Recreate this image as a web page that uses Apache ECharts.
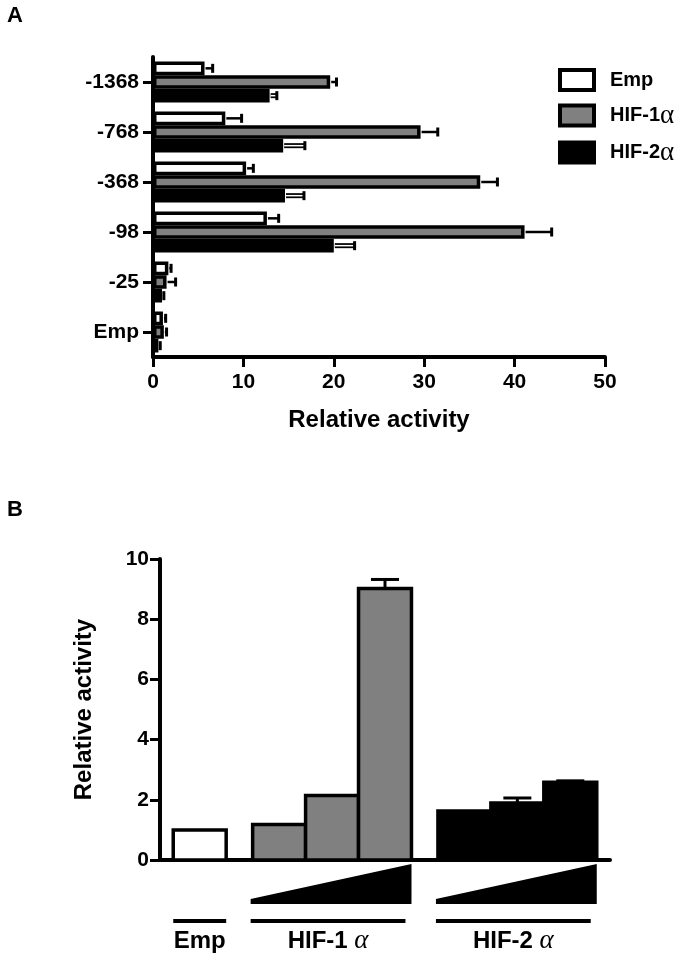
<!DOCTYPE html>
<html>
<head>
<meta charset="utf-8">
<script src="https://cdn.jsdelivr.net/npm/echarts@6/dist/echarts.min.js"></script>
<style>
  html, body { margin: 0; padding: 0; background: #fff; }
  #chart { width: 693px; height: 963px; }
</style>
</head>
<body>
<div id="chart"></div>
<script>
// panel A - promoter constructs
const promoters = ['-1368', '-768', '-368', '-98', '-25', 'Emp'];
const seriesNamesA = ['Emp', 'HIF-1α', 'HIF-2α'];
const empA = [5.7, 8.0, 10.3, 12.6, 1.7, 1.1];
const empAErr = [0.9, 1.8, 0.8, 1.3, 0.3, 0.3];
const hif1A = [19.6, 29.6, 36.2, 41.1, 1.5, 1.2];
const hif1AErr = [0.7, 1.9, 1.9, 3.0, 1.0, 0.3];
const hif2A = [12.9, 14.4, 14.6, 20.0, 1.0, 0.6];
const hif2AErr = [0.8, 2.4, 2.1, 2.3, 0.2, 0.2];
const xTicksA = [0, 10, 20, 30, 40, 50];

// panel B - dose response
const groupsB = ['Emp', 'HIF-1α', 'HIF-2α'];
const empB = [1.0];
const empBErr = [0];
const hif1B = [1.18, 2.14, 9.02];
const hif1BErr = [0, 0, 0.3];
const hif2B = [1.63, 1.89, 2.58];
const hif2BErr = [0, 0.17, 0.05];
const yTicksB = [0, 2, 4, 6, 8, 10];

const FONT = '"Liberation Sans", Arial, sans-serif';
const SERIF = '"Liberation Serif", "DejaVu Serif", serif';
const fills = ['#ffffff', '#808080', '#000000'];
const CAT_GAP = 0.18;

const chart = echarts.init(document.getElementById('chart'));

// bar layout for panel B: half-slot margin, 2 units per bar, 1 unit gap between groups
const barsB = [];
const spansB = [];
let pos = 0.5;
[[empB, empBErr], [hif1B, hif1BErr], [hif2B, hif2BErr]].forEach(([vals, errs], g) => {
  const start = pos;
  vals.forEach((v, i) => {
    barsB.push([pos + 1, v, errs[i], g]);
    pos += 2;
  });
  spansB.push([start, pos, g, vals.length]);
  pos += 1;
});
const xMaxB = pos - 0.5;

function errSeriesA(vals, errs, k) {
  return {
    type: 'custom',
    xAxisIndex: 0,
    yAxisIndex: 0,
    z: 3,
    silent: true,
    data: vals.map((v, i) => [v, i, errs[i]]),
    renderItem: (params, api) => {
      const v = api.value(0), i = api.value(1), e = api.value(2);
      const band = api.size([0, 1])[1];
      const group = band * (1 - CAT_GAP);
      const h = group / 3;
      const c = api.coord([v, i]);
      const y = c[1] - group / 2 + h * (k + 0.5);
      const x0 = c[0] + 1;
      const x1 = api.coord([v + e, i])[0];
      const children = [];
      if (k === 2) {
        children.push({ type: 'line', shape: { x1: x0, y1: y, x2: x1, y2: y }, style: { stroke: '#000', lineWidth: 5 } });
        children.push({ type: 'line', shape: { x1: x0, y1: y, x2: x1 - 1, y2: y }, style: { stroke: '#fff', lineWidth: 1.5 } });
      } else {
        children.push({ type: 'line', shape: { x1: x0, y1: y, x2: x1, y2: y }, style: { stroke: '#000', lineWidth: 2.5 } });
      }
      children.push({ type: 'line', shape: { x1: x1, y1: y - 4.5, x2: x1, y2: y + 4.5 }, style: { stroke: '#000', lineWidth: 3 } });
      return { type: 'group', children };
    }
  };
}

const option = {
  backgroundColor: '#fff',
  animation: false,
  title: [
    { text: 'A', left: 2, top: 0, textStyle: { fontFamily: FONT, fontSize: 22, fontWeight: 'bold', color: '#000' } },
    { text: 'B', left: 2, top: 494, textStyle: { fontFamily: FONT, fontSize: 22, fontWeight: 'bold', color: '#000' } }
  ],
  legend: {
    data: seriesNamesA,
    orient: 'vertical',
    left: 553,
    top: 63,
    padding: 5,
    itemWidth: 34,
    itemHeight: 20,
    itemGap: 10,
    icon: 'rect',
    itemStyle: { borderColor: '#000', borderWidth: 4 },
    formatter: name => name.replace('α', '{a|α}'),
    textStyle: {
      fontFamily: FONT, fontSize: 20, fontWeight: 'bold', color: '#000',
      lineHeight: 22,
      padding: [0, 0, 0, 11],
      rich: { a: { fontFamily: SERIF, fontSize: 27, lineHeight: 22, fontWeight: 'normal', color: '#000' } }
    }
  },
  grid: [
    { left: 153, right: 88, top: 57, height: 300 },
    { left: 160, width: 450, top: 559, height: 301 }
  ],
  xAxis: [
    {
      gridIndex: 0,
      type: 'value',
      min: xTicksA[0],
      max: xTicksA[xTicksA.length - 1],
      interval: xTicksA[1] - xTicksA[0],
      name: 'Relative activity',
      nameLocation: 'middle',
      nameGap: 51,
      nameTextStyle: { fontFamily: FONT, fontSize: 24, fontWeight: 'bold', color: '#000' },
      axisLine: { show: true, lineStyle: { color: '#000', width: 4 } },
      axisTick: { show: true, length: 10, lineStyle: { color: '#000', width: 3 } },
      axisLabel: { fontFamily: FONT, fontSize: 21, fontWeight: 'bold', color: '#000', margin: 15 },
      splitLine: { show: false }
    },
    {
      gridIndex: 1,
      type: 'value',
      min: 0,
      max: xMaxB,
      axisLine: { show: true, onZero: false, lineStyle: { color: '#000', width: 4 } },
      axisTick: { show: false },
      axisLabel: { show: false },
      splitLine: { show: false }
    }
  ],
  yAxis: [
    {
      gridIndex: 0,
      type: 'category',
      inverse: true,
      data: promoters,
      axisLine: { show: true, lineStyle: { color: '#000', width: 4 } },
      axisTick: { show: true, alignWithLabel: true, length: 10, lineStyle: { color: '#000', width: 3 } },
      axisLabel: { fontFamily: FONT, fontSize: 21, fontWeight: 'bold', color: '#000', margin: 14 }
    },
    {
      gridIndex: 1,
      type: 'value',
      min: yTicksB[0],
      max: yTicksB[yTicksB.length - 1],
      interval: yTicksB[1] - yTicksB[0],
      name: 'Relative activity',
      nameLocation: 'middle',
      nameRotate: 90,
      nameGap: 64,
      nameTextStyle: { fontFamily: FONT, fontSize: 24, fontWeight: 'bold', color: '#000' },
      axisLine: { show: true, lineStyle: { color: '#000', width: 4 } },
      axisTick: { show: true, length: 10, lineStyle: { color: '#000', width: 3 } },
      axisLabel: { fontFamily: FONT, fontSize: 21, fontWeight: 'bold', color: '#000', margin: 11 },
      splitLine: { show: false }
    }
  ],
  series: [
    ...[empA, hif1A, hif2A].map((vals, k) => ({
      name: seriesNamesA[k],
      type: 'bar',
      xAxisIndex: 0,
      yAxisIndex: 0,
      barGap: '0%',
      barCategoryGap: (CAT_GAP * 100) + '%',
      itemStyle: { color: fills[k], borderColor: '#000', borderWidth: 3.5 },
      data: vals
    })),
    errSeriesA(empA, empAErr, 0),
    errSeriesA(hif1A, hif1AErr, 1),
    errSeriesA(hif2A, hif2AErr, 2),
    {
      // panel B bars + error caps
      type: 'custom',
      xAxisIndex: 1,
      yAxisIndex: 1,
      silent: true,
      data: barsB,
      renderItem: (params, api) => {
        const x = api.value(0), v = api.value(1), e = api.value(2), g = api.value(3);
        const p0 = api.coord([x - 1, 0]);
        const p1 = api.coord([x + 1, v]);
        const children = [{
          type: 'rect',
          shape: { x: p0[0], y: p1[1], width: p1[0] - p0[0], height: p0[1] - p1[1] },
          style: { fill: fills[g], stroke: '#000', lineWidth: 3.5 }
        }];
        if (e > 0) {
          const pe = api.coord([x, v + e]);
          children.push({ type: 'line', shape: { x1: pe[0], y1: p1[1], x2: pe[0], y2: pe[1] }, style: { stroke: '#000', lineWidth: 3 } });
          children.push({ type: 'line', shape: { x1: pe[0] - 14, y1: pe[1], x2: pe[0] + 14, y2: pe[1] }, style: { stroke: '#000', lineWidth: 3 } });
        }
        return { type: 'group', children };
      }
    },
    {
      // panel B dose wedges, group lines and labels below the axis
      type: 'custom',
      xAxisIndex: 1,
      yAxisIndex: 1,
      silent: true,
      clip: false,
      data: spansB,
      renderItem: (params, api) => {
        const s = api.value(0), e = api.value(1), g = api.value(2), n = api.value(3);
        const base = api.coord([s, 0])[1];
        const xs = api.coord([s, 0])[0];
        const xe = api.coord([e, 0])[0];
        const children = [];
        let lineEnd = xe;
        if (n > 1) {
          children.push({
            type: 'polygon',
            shape: { points: [[xs - 2, base + 44], [xs - 2, base + 39], [xe, base + 4], [xe, base + 44]] },
            style: { fill: '#000' }
          });
          lineEnd = xe - 6;
        }
        const lx0 = n > 1 ? xs - 2 : xs;
        children.push({ type: 'line', shape: { x1: lx0, y1: base + 61, x2: lineEnd, y2: base + 61 }, style: { stroke: '#000', lineWidth: 4 } });
        children.push({
          type: 'text',
          x: (lx0 + lineEnd) / 2,
          y: base + 81,
          style: {
            text: groupsB[g].replace(/-(\d)α/, '-$1 {a|α}'),
            align: 'center',
            verticalAlign: 'middle',
            fontFamily: FONT,
            fontSize: 24,
            fontWeight: 'bold',
            fill: '#000',
            rich: { a: { fontFamily: SERIF, fontSize: 27, fontStyle: 'italic', fontWeight: 'normal', fill: '#000', color: '#000' } }
          }
        });
        return { type: 'group', children };
      }
    }
  ]
};

chart.setOption(option);
window.addEventListener('resize', () => chart.resize());
</script>
</body>
</html>
